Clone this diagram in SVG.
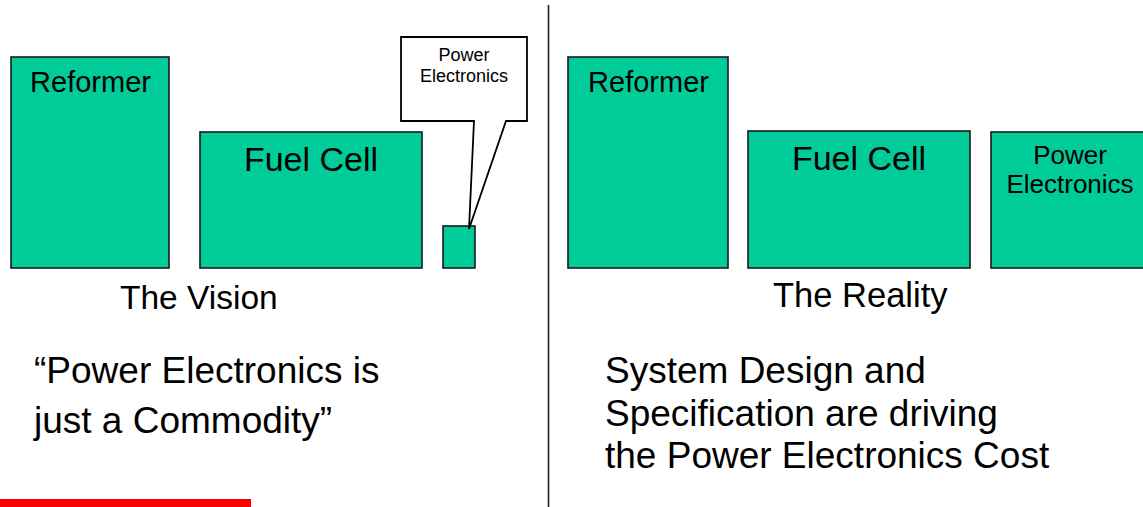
<svg xmlns="http://www.w3.org/2000/svg" width="1143" height="507" viewBox="0 0 1143 507">
<style>
.box{fill:#00CC99;stroke:#1a1a1a;stroke-width:1.6}
.call{fill:#ffffff;stroke:#000000;stroke-width:1.8;stroke-linejoin:miter}
text{font-family:"Liberation Sans",Arial,sans-serif;fill:#000000}
.c{text-anchor:middle}
</style>
<rect width="1143" height="507" fill="#ffffff"/>
<g id="divider"><line x1="548.5" y1="5" x2="548.5" y2="507" stroke="#222222" stroke-width="1.6"/></g>
<g id="vision-reformer"><rect class="box" x="11" y="57" width="158" height="211"/><text class="c" x="90.5" y="92" font-size="29">Reformer</text></g>
<g id="vision-fuelcell"><rect class="box" x="200" y="132" width="222" height="136"/><text class="c" x="311" y="171" font-size="34">Fuel Cell</text></g>
<g id="vision-pe"><rect class="box" x="443" y="226" width="32" height="42"/></g>
<g id="connectors"><path class="call" d="M401,37 H527 V121 H506 L469,229 L474,121 H401 Z"/></g>
<g id="callout"><text class="c" x="464" y="61" font-size="18">Power</text><text class="c" x="464" y="82" font-size="18">Electronics</text></g>
<g id="reality-reformer"><rect class="box" x="568" y="57" width="160" height="211"/><text class="c" x="648.5" y="92" font-size="29">Reformer</text></g>
<g id="reality-fuelcell"><rect class="box" x="748" y="131" width="222" height="137"/><text class="c" x="859" y="170" font-size="34">Fuel Cell</text></g>
<g id="reality-pe"><rect class="box" x="991" y="132" width="158" height="136"/><text class="c" x="1070" y="164" font-size="26">Power</text><text class="c" x="1070" y="193" font-size="26">Electronics</text></g>
<g id="captions">
<text x="120" y="309" font-size="33.5">The Vision</text>
<text x="773" y="307" font-size="34.5">The Reality</text>
<text x="34" y="383" font-size="37">“Power Electronics is</text>
<text x="34" y="433" font-size="37">just a Commodity”</text>
<text x="605" y="383" font-size="37">System Design and</text>
<text x="605" y="426" font-size="37">Specification are driving</text>
<text x="605" y="468" font-size="37">the Power Electronics Cost</text>
</g>
<rect x="0" y="499" width="251" height="8" fill="#ff0000"/>
</svg>
